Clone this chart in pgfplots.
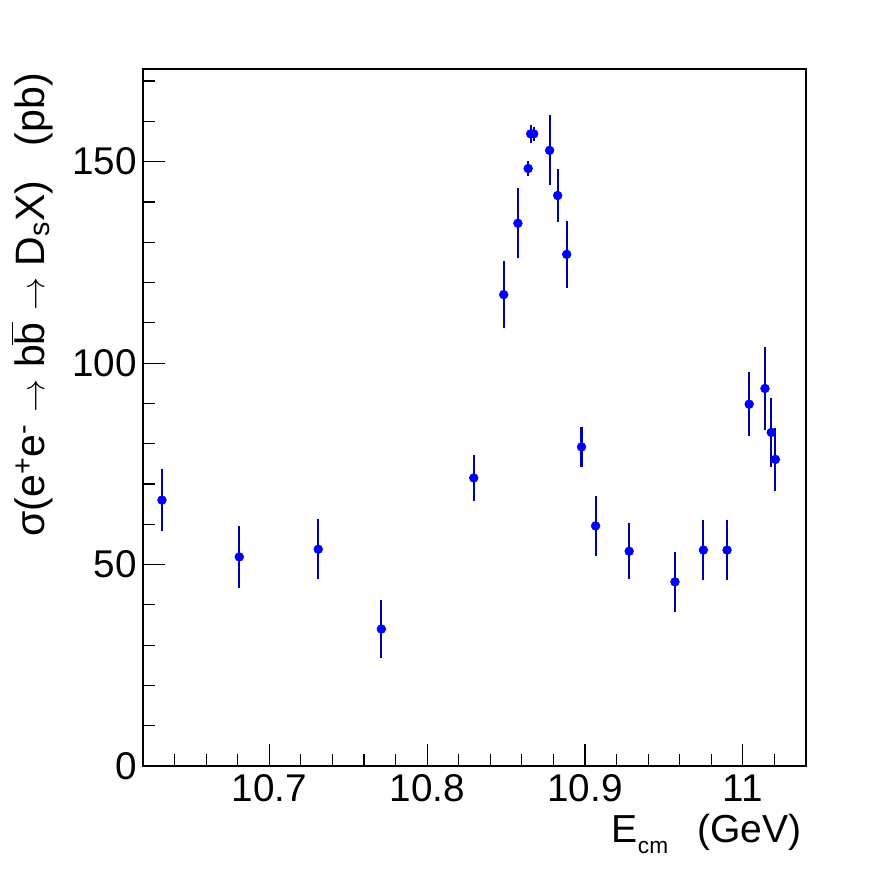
\documentclass[border=0pt]{standalone}
\usepackage{pgfplots}
\pgfplotsset{compat=1.18}
\usepackage{fontspec}
\setmainfont{Liberation Sans}
\definecolor{mk}{RGB}{0,0,255}
\definecolor{eb}{RGB}{0,0,170}
\begin{document}
\begin{tikzpicture}
\fill[white] (0,0) rectangle (672pt,654pt);
\useasboundingbox (0,0) rectangle (672pt,654pt);
\begin{axis}[
  at={(107.25pt,79.5pt)}, anchor=south west,
  scale only axis, width=497.25pt, height=522.75pt,
  xmin=10.62, xmax=11.04, ymin=0, ymax=173,
  xtick={10.7,10.8,10.9,11}, xticklabels={10.7,10.8,10.9,11},
  minor xtick={10.64,10.66,10.68,10.72,10.74,10.76,10.78,10.82,10.84,10.86,10.88,10.92,10.94,10.96,10.98,11.02},
  ytick={0,50,100,150},
  minor ytick={10,20,30,40,60,70,80,90,110,120,130,140,160,170},
  tick pos=left, tick align=inside,
  major tick length=16.5pt, minor tick length=9pt,
  every tick/.style={black, line width=0.9pt},
  axis line style={line width=0.9pt},
  /pgf/number format/assume math mode=true,
  tick label style={font=\fontsize{29}{29}\selectfont},
  xticklabel style={yshift=-3pt},
  yticklabel style={xshift=-1pt},
  xlabel={E\kern0.5pt\raisebox{-8pt}{\fontsize{17}{17}\selectfont cm}\hspace{22pt}(GeV)},
  xlabel style={at={(rel axis cs:1,0)}, anchor=north east, inner sep=0pt, yshift=-36pt, xshift=-3pt, font=\fontsize{29.3}{29.3}\selectfont},
  ylabel={σ(e\textsuperscript{+}e\textsuperscript{-} $\rightarrow$ b$\overline{\mbox{b}}$ $\rightarrow$ D\textsubscript{s}X)\ \ \ (pb)},
  ylabel style={at={(rel axis cs:0,1)}, anchor=south east, inner sep=0pt, yshift=67.5pt, xshift=-3pt, font=\fontsize{30.8}{30.8}\selectfont},
]
\addplot[only marks, mark=*, mark size=3.3pt, mark options={fill=mk, draw=mk},
  error bars/.cd, y dir=both, y explicit, error mark=none,
  error bar style={color=eb, line width=1.6pt}]
coordinates {
(10.632,66.0) +- (0,7.6)
(10.681,51.9) +- (0,7.6)
(10.731,53.8) +- (0,7.4)
(10.771,34.0) +- (0,7.1)
(10.8295,71.5) +- (0,5.8)
(10.8485,117.0) +- (0,8.3)
(10.8575,134.7) +- (0,8.7)
(10.864,148.3) +- (0,1.9)
(10.8656,156.9) +- (0,2.2)
(10.8675,156.9) +- (0,1.8)
(10.8776,152.8) +- (0,8.7)
(10.8827,141.6) +- (0,6.5)
(10.8884,127.0) +- (0,8.3)
(10.8978,79.2) +- (0,5.0)
(10.9067,59.6) +- (0,7.4)
(10.928,53.3) +- (0,6.9)
(10.957,45.7) +- (0,7.4)
(10.975,53.6) +- (0,7.4)
(10.990,53.6) +- (0,7.4)
(11.004,89.8) +- (0,7.9)
(11.014,93.7) +- (0,10.2)
(11.018,82.8) +- (0,8.6)
(11.0206,76.1) +- (0,7.8)
};
\end{axis}
\end{tikzpicture}
\end{document}
